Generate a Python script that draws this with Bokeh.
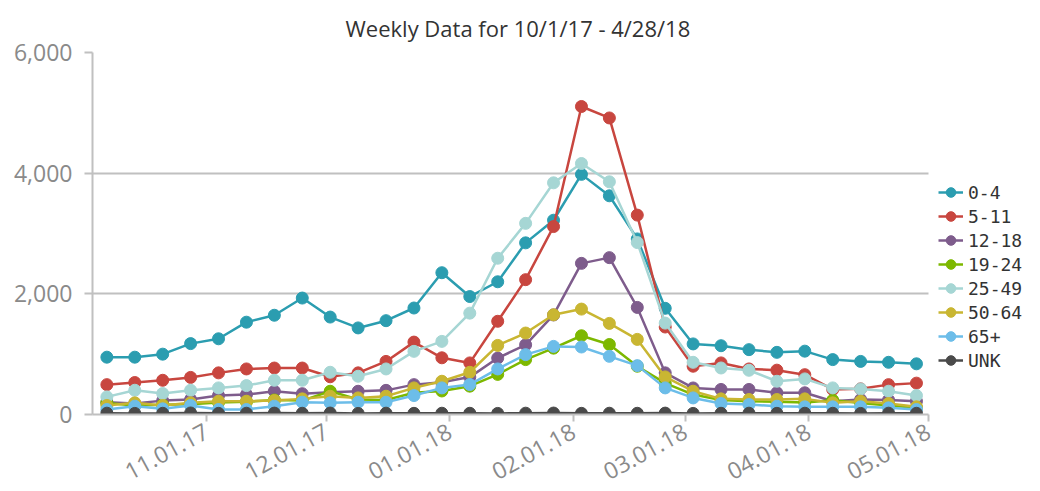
from datetime import datetime
from bokeh.plotting import figure
from bokeh.models import (Range1d, FixedTicker, NumeralTickFormatter, Legend, LegendItem,
                          ColumnDataSource)
from bokeh.embed import file_html
from bokeh.resources import INLINE

# ---------------- data ----------------
week_ending = ["2017-10-07", "2017-10-14", "2017-10-21", "2017-10-28", "2017-11-04",
               "2017-11-11", "2017-11-18", "2017-11-25", "2017-12-02", "2017-12-09",
               "2017-12-16", "2017-12-23", "2017-12-30", "2018-01-06", "2018-01-13",
               "2018-01-20", "2018-01-27", "2018-02-03", "2018-02-10", "2018-02-17",
               "2018-02-24", "2018-03-03", "2018-03-10", "2018-03-17", "2018-03-24",
               "2018-03-31", "2018-04-07", "2018-04-14", "2018-04-21", "2018-04-28"]

age_0_4 = [950, 950, 1000, 1175, 1255, 1530, 1645, 1930, 1615, 1435, 1555, 1765, 2350, 1955, 2200,
           2845, 3220, 3980, 3625, 2910, 1760, 1170, 1140, 1075, 1030, 1050, 910, 880, 865, 840]
age_5_11 = [495, 530, 567, 615, 690, 755, 770, 770, 625, 690, 880, 1200, 940, 855, 1545,
            2235, 3115, 5105, 4915, 3305, 1450, 800, 855, 755, 735, 660, 415, 425, 495, 520]
age_12_18 = [205, 182, 230, 248, 315, 330, 385, 345, 370, 385, 400, 495, 535, 620, 935,
             1155, 1650, 2505, 2600, 1775, 690, 440, 415, 415, 360, 360, 220, 248, 240, 220]
age_19_24 = [190, 150, 160, 170, 200, 210, 240, 230, 385, 250, 240, 360, 390, 470, 665,
             910, 1100, 1305, 1160, 800, 520, 330, 240, 220, 210, 200, 237, 190, 150, 110]
age_25_49 = [292, 402, 347, 402, 441, 479, 567, 567, 700, 634, 755, 1047, 1212, 1680, 2590,
             3168, 3840, 4160, 3857, 2850, 1515, 865, 771, 733, 551, 590, 441, 424, 386, 314]
age_50_64 = [149, 193, 149, 193, 220, 220, 231, 259, 303, 275, 303, 441, 551, 700, 1145,
             1350, 1653, 1747, 1510, 1245, 623, 386, 259, 248, 248, 259, 193, 220, 182, 127]
age_65p = [83, 138, 94, 149, 83, 83, 138, 204, 193, 204, 204, 314, 441, 496, 755,
           992, 1129, 1119, 964, 810, 441, 275, 182, 165, 138, 127, 127, 127, 110, 83]
age_unk = [22, 18, 20, 25, 19, 21, 23, 20, 24, 18, 22, 19, 21, 20, 18,
           22, 24, 19, 21, 20, 23, 18, 20, 22, 19, 21, 20, 18, 22, 20]

series_names = ["0-4", "5-11", "12-18", "19-24", "25-49", "50-64", "65+", "UNK"]
series_values = [age_0_4, age_5_11, age_12_18, age_19_24, age_25_49, age_50_64, age_65p, age_unk]
series_colors = ["#2b9db0", "#c8463f", "#7e5c8c", "#7db800", "#a6d6d4", "#c9b632", "#6cbde9", "#4a4a4a"]

tick_dates = ["2017-11-01", "2017-12-01", "2018-01-01", "2018-02-01", "2018-03-01",
              "2018-04-01", "2018-05-01"]
tick_labels = ["11.01.17", "12.01.17", "01.01.18", "02.01.18", "03.01.18", "04.01.18", "05.01.18"]

y_ticks = [0, 2000, 4000, 6000]

title_text = "Weekly Data for 10/1/17 - 4/28/18"

# ---------------- helpers ----------------
def to_ms(s):
    return int((datetime.strptime(s, "%Y-%m-%d") - datetime(1970, 1, 1)).total_seconds() * 1000)

x_vals = [to_ms(d) for d in week_ending]
tick_ms = [to_ms(d) for d in tick_dates]
day_ms = 86400000

GRAY = "#c0c0c0"
LABEL = "#8a8a8a"

# the axis area spans from x_start to the last tick; the frame continues to the
# right so that the legend can sit inside it
x_start = tick_ms[0] - 28.6 * day_ms
x_axis_end = tick_ms[-1]
x_frame_end = x_axis_end + 28.1 * day_ms

p = figure(width=1040, height=491, x_axis_type="datetime", output_backend="svg",
           toolbar_location=None, min_border_left=92, min_border_right=0,
           min_border_top=52, min_border_bottom=76,
           x_range=Range1d(x_start, x_frame_end),
           y_range=Range1d(0, 6000))

p.title.text = title_text
p.title.align = "left"
p.title.offset = 253
p.title.text_font = "Open Sans"
p.title.text_font_size = "22px"
p.title.text_font_style = "normal"
p.title.text_color = "#333333"
p.title.standoff = 19

p.outline_line_color = None
p.background_fill_color = "white"
p.border_fill_color = "white"

# grid
p.xgrid.visible = False
p.ygrid.ticker = FixedTicker(ticks=y_ticks)
p.ygrid.grid_line_color = GRAY
p.ygrid.grid_line_width = 2
try:
    p.ygrid.cross_bounds = (x_start, x_axis_end)
except Exception:
    p.ygrid.visible = False
    p.segment(x0=[x_start] * len(y_ticks), x1=[x_axis_end] * len(y_ticks),
              y0=y_ticks, y1=y_ticks, line_color=GRAY, line_width=2)

# y axis
p.yaxis.ticker = FixedTicker(ticks=y_ticks)
p.yaxis.formatter = NumeralTickFormatter(format="0,0")
p.yaxis.axis_line_color = GRAY
p.yaxis.axis_line_width = 2
p.yaxis.major_tick_line_color = GRAY
p.yaxis.major_tick_line_width = 2
p.yaxis.major_tick_out = 8
p.yaxis.major_tick_in = 0
p.yaxis.minor_tick_line_color = None
p.yaxis.major_label_text_font = "Open Sans"
p.yaxis.major_label_text_font_size = "23px"
p.yaxis.major_label_text_color = LABEL
p.yaxis.major_label_standoff = 12

# x axis
p.xaxis.ticker = FixedTicker(ticks=tick_ms)
p.xaxis.bounds = (x_start, x_axis_end)
p.xaxis.major_label_overrides = {t: lab for t, lab in zip(tick_ms, tick_labels)}
p.xaxis.axis_line_color = GRAY
p.xaxis.axis_line_width = 2
p.xaxis.major_tick_line_color = GRAY
p.xaxis.major_tick_line_width = 2
p.xaxis.major_tick_out = 7
p.xaxis.major_tick_in = 0
p.xaxis.minor_tick_line_color = None
p.xaxis.major_label_text_font = "Open Sans"
p.xaxis.major_label_text_font_size = "23px"
p.xaxis.major_label_text_color = LABEL
p.xaxis.major_label_orientation = 0.5
p.xaxis.major_label_standoff = 8

items = []
for name, vals, col in zip(series_names, series_values, series_colors):
    src = ColumnDataSource(dict(x=x_vals, y=vals))
    ln = p.line("x", "y", source=src, line_color=col, line_width=2.5)
    cr = p.scatter("x", "y", source=src, size=12, fill_color=col, line_color=col)
    items.append(LegendItem(label=name, renderers=[ln, cr]))

legend = Legend(items=items, location=(846, 42))
legend.background_fill_alpha = 0
legend.border_line_color = None
legend.padding = 0
legend.margin = 0
legend.spacing = 0
legend.label_height = 24
legend.glyph_height = 24
legend.glyph_width = 25
legend.label_standoff = 5
legend.label_text_font = "DejaVu Sans Mono"
legend.label_text_font_size = "18px"
legend.label_text_color = "#333333"
p.add_layout(legend, "center")

open("out.html", "w").write(file_html(p, INLINE))
